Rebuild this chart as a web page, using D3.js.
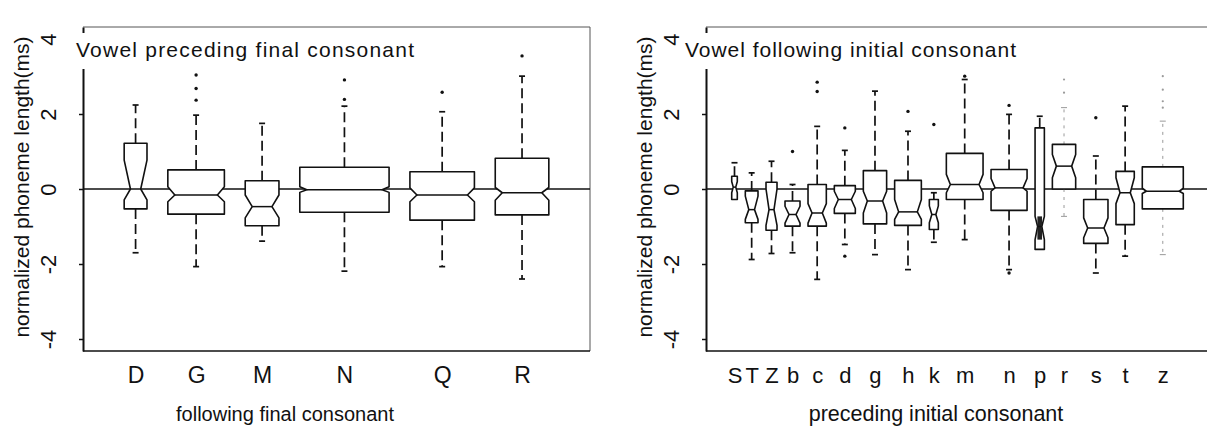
<!DOCTYPE html>
<html><head><meta charset="utf-8">
<script src="https://cdn.jsdelivr.net/npm/d3@7/dist/d3.min.js"></script>
<style>
body{margin:0;background:#fff}
svg{display:block}
text{font-family:"Liberation Sans",Arial,Helvetica,sans-serif;fill:#111}
</style>
</head><body>
<svg id="chart" width="1207" height="431"></svg>
<script>
// ---------- data: left panel (following final consonant) ----------
const finalCats   = ["D","G","M","N","Q","R"];
const finalWidth  = [23, 57, 34, 90, 65, 54];          // relative box widths (varwidth)
const finalQ3     = [1.22, 0.51, 0.22, 0.58, 0.46, 0.82];
const finalQ1     = [-0.53, -0.67, -0.98, -0.62, -0.83, -0.69];
const finalMed    = [0.00, -0.16, -0.47, -0.02, -0.16, -0.10];
const finalNotchHi= [0.77, 0.06, -0.16, 0.06, 0.03, 0.04];
const finalNotchLo= [-0.29, -0.34, -0.77, -0.09, -0.34, -0.30];
const finalWhiskHi= [2.24, 1.97, 1.75, 2.21, 2.06, 3.01];
const finalWhiskLo= [-1.70, -2.07, -1.39, -2.19, -2.07, -2.40];
const finalOut    = [[], [2.37, 2.68, 3.04], [], [2.39, 2.91], [2.58], [3.55]];

// ---------- data: right panel (preceding initial consonant) ----------
const initCats   = ["S","T","Z","b","c","d","g","h","k","m","n","p","r","s","t","z"];
const initWidth  = [5.6, 12.7, 11, 15, 18.3, 21, 23.3, 26.7, 9, 36.7, 36, 9.3, 23.3, 24.3, 18.3, 41];
const initQ3     = [0.34, -0.05, 0.18, -0.32, 0.12, 0.09, 0.49, 0.23, -0.28, 0.95, 0.52, 1.63, 1.19, -0.28, 0.47, 0.59];
const initQ1     = [-0.28, -0.90, -1.10, -0.99, -0.99, -0.65, -0.93, -0.97, -1.08, -0.28, -0.57, -1.61, 0.00, -1.45, -0.95, -0.53];
const initMed    = [0.05, -0.55, -0.55, -0.68, -0.64, -0.28, -0.32, -0.61, -0.68, 0.12, 0.03, -1.00, 0.61, -1.04, -0.10, -0.06];
const initNotchHi= [0.20, -0.19, 0.00, -0.46, -0.39, -0.06, -0.06, -0.28, -0.45, 0.39, 0.28, -0.73, 0.92, -0.77, 0.30, 0.02];
const initNotchLo= [-0.10, -0.81, -0.97, -0.91, -0.91, -0.52, -0.64, -0.81, -0.90, -0.10, -0.06, -1.35, 0.30, -1.30, -0.39, -0.12];
const initWhiskHi= [0.70, 0.43, 0.74, 0.12, 1.67, 1.03, 2.61, 1.54, -0.10, 2.92, 1.99, 1.94, 2.17, 0.88, 2.21, 1.81];
const initWhiskLo= [-0.28, -1.88, -1.72, -1.70, -2.41, -1.48, -1.75, -2.15, -1.42, -1.35, -2.15, -1.61, -0.73, -2.24, -1.79, -1.75];
const initOut    = [[], [], [], [1.0], [2.6, 2.85], [1.63, -1.79], [], [2.07], [1.72], [3.01], [2.23, -2.24], [], [2.57, 2.92], [1.9], [], [2.17, 2.34, 2.65, 3.01]];

const yTicks = [-4, -2, 0, 2, 4];
const yTitle = "normalized phoneme length(ms)";

const svg = d3.select("#chart");
const y = d3.scaleLinear().domain([-4.32, 4.32]).range([351, 27]);

function layout(widths, gap, pad) {
  let pos = pad; const centers = [];
  widths.forEach(w => { centers.push(pos + w / 2); pos += w + gap; });
  return { centers, total: pos - gap + pad };
}

function drawPanel(cfg) {
  const g = svg.append("g");
  const lay = layout(cfg.widths, cfg.gap, cfg.pad);
  const x = d3.scaleLinear().domain([0, lay.total]).range([cfg.left, cfg.right]);
  const k = x(1) - x(0);
  const ink = "#111";

  // frame (top, right, bottom)
  g.append("line").attr("x1", cfg.left).attr("x2", cfg.right).attr("y1", y.range()[1]).attr("y2", y.range()[1])
    .attr("stroke", "#555").attr("stroke-width", 1);
  g.append("line").attr("x1", cfg.right).attr("x2", cfg.right).attr("y1", y.range()[1]).attr("y2", y.range()[0])
    .attr("stroke", "#555").attr("stroke-width", 1);
  g.append("line").attr("x1", cfg.left).attr("x2", cfg.right).attr("y1", y.range()[0]).attr("y2", y.range()[0])
    .attr("stroke", ink).attr("stroke-width", 1.4);

  // zero reference line
  g.append("line").attr("x1", cfg.left).attr("x2", cfg.right).attr("y1", y(0)).attr("y2", y(0))
    .attr("stroke", ink).attr("stroke-width", 1.6);

  // boxes
  cfg.cats.forEach((c, i) => {
    const cx = x(lay.centers[i]);
    const hw = cfg.widths[i] * k / 2;
    const ind = Math.min(cfg.indent, hw * 0.55);
    const faint = cfg.faint.includes(c);
    const col = faint ? "#9a9a9a" : ink;
    const q3 = cfg.q3[i], q1 = cfg.q1[i], md = cfg.med[i], nh = cfg.nhi[i], nl = cfg.nlo[i];
    // whiskers
    const wg = g.append("g").attr("stroke", col).attr("stroke-width", faint ? 1 : 1.7);
    if (cfg.whi[i] > q3) {
      wg.append("line").attr("x1", cx).attr("x2", cx).attr("y1", y(q3)).attr("y2", y(cfg.whi[i]))
        .attr("stroke-dasharray", faint ? "3,5" : "10,5");
      wg.append("line").attr("x1", cx - 3).attr("x2", cx + 3).attr("y1", y(cfg.whi[i])).attr("y2", y(cfg.whi[i]));
    }
    if (cfg.wlo[i] < q1) {
      wg.append("line").attr("x1", cx).attr("x2", cx).attr("y1", y(q1)).attr("y2", y(cfg.wlo[i]))
        .attr("stroke-dasharray", faint ? "3,5" : "10,5");
      wg.append("line").attr("x1", cx - 3).attr("x2", cx + 3).attr("y1", y(cfg.wlo[i])).attr("y2", y(cfg.wlo[i]));
    }
    // notched box
    const pts = [
      [cx - hw, y(q3)], [cx + hw, y(q3)], [cx + hw, y(nh)], [cx + hw - ind, y(md)], [cx + hw, y(nl)],
      [cx + hw, y(q1)], [cx - hw, y(q1)], [cx - hw, y(nl)], [cx - hw + ind, y(md)], [cx - hw, y(nh)]
    ];
    g.append("path").attr("d", d3.line()(pts) + "Z")
      .attr("fill", "#fff").attr("stroke", ink).attr("stroke-width", 1.6).attr("stroke-linejoin", "round");
    if (cfg.dark.includes(c)) {
      g.append("rect").attr("x", cx - hw / 2).attr("width", hw)
        .attr("y", y(nh)).attr("height", y(nl) - y(nh)).attr("fill", "#222");
    }
    g.append("line").attr("x1", cx - hw + ind).attr("x2", cx + hw - ind).attr("y1", y(md)).attr("y2", y(md))
      .attr("stroke", ink).attr("stroke-width", 1.5);
    // outliers
    g.selectAll(null).data(cfg.out[i]).enter().append("circle")
      .attr("cx", cx).attr("cy", d => y(d)).attr("r", faint ? 1.1 : 1.7).attr("fill", col);
  });

  // y axis
  const ya = g.append("g").attr("transform", `translate(${cfg.left},0)`)
    .call(d3.axisLeft(y).tickValues(yTicks).tickSize(4).tickSizeOuter(0).tickFormat(d3.format("d")));
  ya.select(".domain").attr("stroke", ink).attr("stroke-width", 2);
  ya.selectAll(".tick line").attr("stroke", ink).attr("stroke-width", 1.5);
  ya.selectAll(".tick text").attr("x", null).attr("dy", null).attr("y", null)
    .attr("transform", "translate(-27,0) rotate(-90)").attr("text-anchor", "middle")
    .attr("font-size", 22).attr("font-family", null).attr("fill", ink)
    .text(d => d < 0 ? "-" + Math.abs(d) : d);

  // x axis labels at box centers
  const xa = g.append("g").attr("transform", `translate(0,${y.range()[0]})`)
    .call(d3.axisBottom(x).tickValues(lay.centers).tickSize(0).tickFormat((d, i) => cfg.cats[i]));
  xa.select(".domain").remove();
  xa.selectAll(".tick text").attr("dy", null).attr("y", 32).attr("font-size", cfg.labelSize)
    .attr("font-family", null).attr("fill", ink);

  // titles
  g.append("text").attr("transform", `translate(${cfg.yTitleX},${y(0) - 2}) rotate(-90)`)
    .attr("text-anchor", "middle").attr("font-size", 21).text(yTitle);
  g.append("text").attr("x", cfg.xTitleX).attr("y", 421).attr("text-anchor", "middle")
    .attr("font-size", cfg.xTitleSize).text(cfg.xTitle);

  // panel title with white backing that hides the axis
  g.append("rect").attr("x", cfg.titleX - 2).attr("y", 33).attr("width", cfg.titleLen + 6).attr("height", 36).attr("fill", "#fff");
  g.append("text").attr("x", cfg.titleX).attr("y", 57).attr("font-size", 21)
    .attr("textLength", cfg.titleLen).attr("lengthAdjust", "spacing").text(cfg.title);
}

drawPanel({
  cats: finalCats, widths: finalWidth, q3: finalQ3, q1: finalQ1, med: finalMed,
  nhi: finalNotchHi, nlo: finalNotchLo, whi: finalWhiskHi, wlo: finalWhiskLo, out: finalOut,
  gap: 21, pad: 41.5, left: 83, right: 590, indent: 7, faint: [], dark: [], labelSize: 23,
  yTitleX: 29, xTitleX: 285, xTitleSize: 20, xTitle: "following final consonant",
  titleX: 76, titleLen: 338, title: "Vowel preceding final consonant"
});
drawPanel({
  cats: initCats, widths: initWidth, q3: initQ3, q1: initQ1, med: initMed,
  nhi: initNotchHi, nlo: initNotchLo, whi: initWhiskHi, wlo: initWhiskLo, out: initOut,
  gap: 8, pad: 25.7, left: 706, right: 1209, indent: 4, faint: ["r", "z"], dark: ["p"], labelSize: 22,
  yTitleX: 652, xTitleX: 936, xTitleSize: 21.5, xTitle: "preceding initial consonant",
  titleX: 685, titleLen: 331, title: "Vowel following initial consonant"
});
</script>
</body></html>
